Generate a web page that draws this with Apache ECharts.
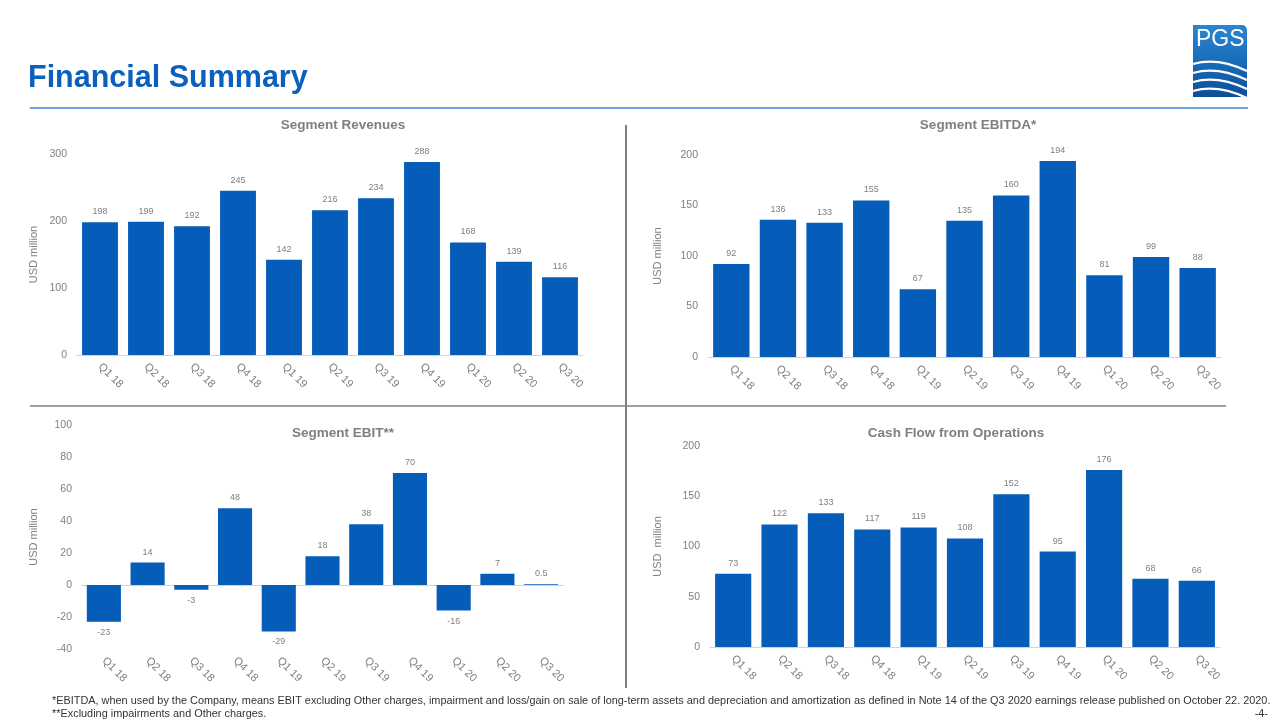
<!DOCTYPE html>
<html>
<head>
<meta charset="utf-8">
<script src="https://cdn.jsdelivr.net/npm/echarts@6/dist/echarts.min.js"></script>
<style>
html,body{margin:0;padding:0;background:#fff;}
#c{width:1279px;height:723px;}
</style>
</head>
<body>
<div id="c"></div>
<script>
const categories = ['Q1 18','Q2 18','Q3 18','Q4 18','Q1 19','Q2 19','Q3 19','Q4 19','Q1 20','Q2 20','Q3 20'];
const revenues = [198,199,192,245,142,216,234,288,168,139,116];
const ebitda = [92,136,133,155,67,135,160,194,81,99,88];
const ebit = [-23,14,-3,48,-29,18,38,70,-16,7,0.5];
const cashFlow = [73,122,133,117,119,108,152,95,176,68,66];
const revTicks = [0,100,200,300];
const ebitdaTicks = [0,50,100,150,200];
const ebitTicks = [-40,-20,0,20,40,60,80,100];
const cashTicks = [0,50,100,150,200];

const BLUE = '#065cb9';
const GRAY = '#7f7f7f';
const FONT = 'Liberation Sans, Arial, sans-serif';

const chart = echarts.init(document.getElementById('c'), null, {renderer:'canvas'});

const grids = [
  {left:77, right:696, top:154, bottom:368},
  {left:708, right:58, top:155, bottom:366},
  {left:82, right:716, top:425, bottom:74},
  {left:710, right:59, top:446, bottom:76}
];
const ranges = [
  {min:revTicks[0], max:revTicks[revTicks.length-1], interval:100, name:'USD million', gap:38},
  {min:ebitdaTicks[0], max:ebitdaTicks[ebitdaTicks.length-1], interval:50, name:'USD million', gap:45},
  {min:ebitTicks[0], max:ebitTicks[ebitTicks.length-1], interval:20, name:'USD million', gap:43},
  {min:cashTicks[0], max:cashTicks[cashTicks.length-1], interval:50, name:'USD  million', gap:47}
];
const datasets = [revenues, ebitda, ebit, cashFlow];

const xAxis = grids.map((g,i)=>({
  type:'category', gridIndex:i, data:categories,
  axisTick:{show:false},
  axisLine:{lineStyle:{color:'#d9d2c5', width:1}},
  axisLabel:{rotate:-45, color:GRAY, fontSize:11, fontFamily:FONT, margin:10, interval:0}
}));
const yAxis = ranges.map((r,i)=>({
  type:'value', gridIndex:i, min:r.min, max:r.max, interval:r.interval,
  name:r.name, nameLocation:'middle', nameGap:r.gap, nameRotate:90,
  nameTextStyle:{color:GRAY, fontSize:11, fontFamily:FONT},
  splitLine:{show:false}, axisLine:{show:false}, axisTick:{show:false},
  axisLabel:{color:GRAY, fontSize:10.5, fontFamily:FONT, margin:10}
}));
const series = datasets.map((d,i)=>({
  type:'bar', xAxisIndex:i, yAxisIndex:i, barCategoryGap:'22%',
  itemStyle:{color:BLUE},
  label:{show:true, position:'top', color:GRAY, fontSize:9, fontFamily:FONT, distance:6},
  data:d.map(v => v < 0 ? {value:v, label:{position:'bottom'}} : v)
}));

function txt(x, y, text, font, fill, align){
  return {type:'text', x:x, y:y, style:{text:text, fill:fill, font:font, textAlign:align||'left', textVerticalAlign:'top'}};
}
const TF = 'bold 13.5px '+FONT;
const titles = [
  txt(343, 118, 'Segment Revenues', TF, GRAY, 'center'),
  txt(978, 118, 'Segment EBITDA*', TF, GRAY, 'center'),
  txt(343, 426, 'Segment EBIT**', TF, GRAY, 'center'),
  txt(956, 426, 'Cash Flow from Operations', TF, GRAY, 'center')
];
function wave(y){
  return {type:'bezierCurve', shape:{x1:1193,y1:y,cpx1:1210,cpy1:y-5,cpx2:1228,cpy2:y-2,x2:1247,y2:y+7}, style:{stroke:'#fff', lineWidth:2.2, fill:null}};
}

const FN = '10.9px '+FONT;
const graphic = [
  txt(28, 63, 'Financial Summary', 'bold 30.5px '+FONT, '#0b5fbd'),
  {type:'line', shape:{x1:30,y1:108,x2:1248,y2:108}, style:{stroke:'#3d85d6', lineWidth:1.5}},
  {type:'line', shape:{x1:626,y1:125,x2:626,y2:688}, style:{stroke:'#808080', lineWidth:2}},
  {type:'line', shape:{x1:30,y1:406,x2:1226,y2:406}, style:{stroke:'#808080', lineWidth:1.5}},
  {type:'rect', shape:{x:1193,y:25,width:54,height:72,r:[0,5,0,0]},
    style:{fill:new echarts.graphic.LinearGradient(0,0,0,1,[{offset:0,color:'#2a86d2'},{offset:0.5,color:'#1a6cb8'},{offset:1,color:'#0d4f95'}])}},
  txt(1196, 28, 'PGS', '23px '+FONT, '#fff'),
  wave(64), wave(73), wave(82), wave(91),
  txt(52, 695, '*EBITDA, when used by the Company, means EBIT excluding Other charges, impairment and loss/gain on sale of long-term assets and depreciation and amortization as defined in Note 14 of the Q3 2020 earnings release published on October 22. 2020.', FN, '#333'),
  txt(52, 708, '**Excluding impairments and Other charges.', FN, '#333'),
  txt(1268, 708, '-4-', FN, '#333', 'right')
].concat(titles);

chart.setOption({
  animation:false,
  grid:grids,
  xAxis:xAxis,
  yAxis:yAxis,
  series:series,
  graphic:graphic
});
</script>
</body>
</html>
